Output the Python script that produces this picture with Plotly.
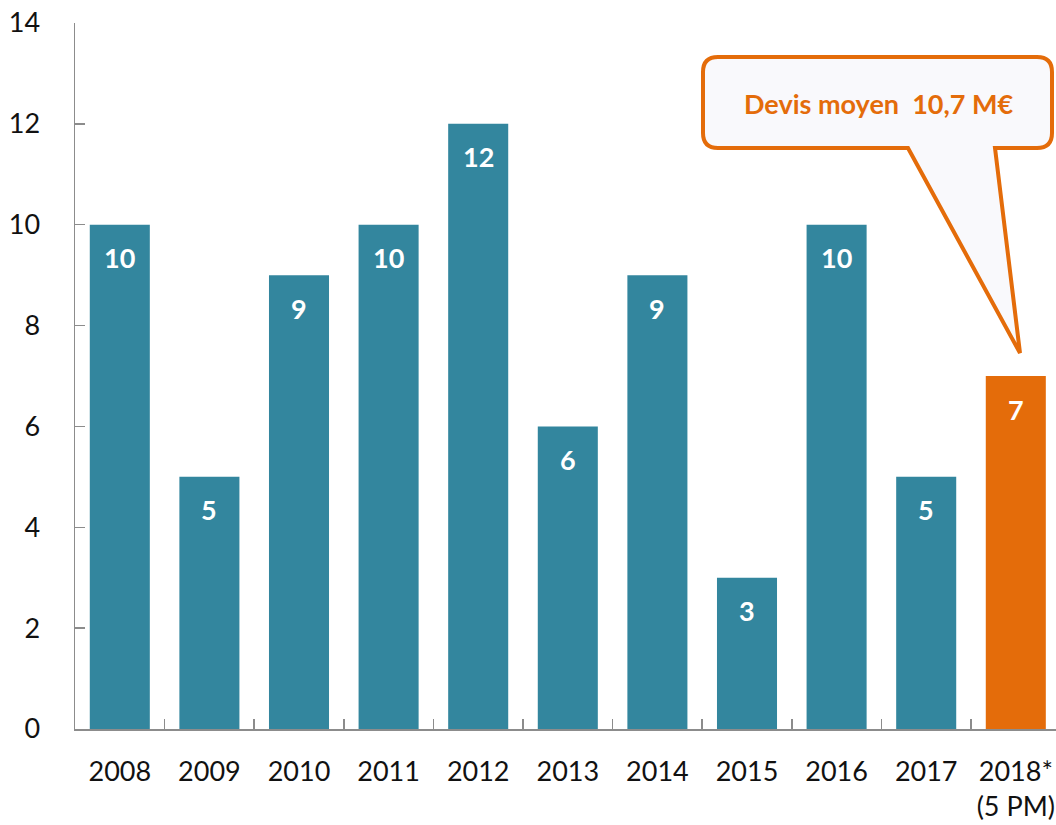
import plotly.graph_objects as go

categories = ["2008", "2009", "2010", "2011", "2012", "2013", "2014", "2015", "2016", "2017", "2018*<br>(5 PM)"]
values = [10, 5, 9, 10, 12, 6, 9, 3, 10, 5, 7]
bar_colors = ["#33869E"] * 10 + ["#E46C0A"]
callout_text = "Devis moyen\u00a0\u00a010,7 M€"

FONT = "Lato, Carlito, Calibri, sans-serif"
W, H = 1056, 825
L, R, T, B = 75, 0, 23, 96
PW, PH = W - L - R, H - T - B
CAT_W = 89.6

fig = go.Figure()
fig.add_trace(go.Bar(
    x=categories, y=values,
    marker=dict(color=bar_colors, line=dict(width=0)),
    hoverinfo="skip",
))

for i, v in enumerate(values):
    fig.add_annotation(x=i, y=v, text=f"<b>{v}</b>", showarrow=False,
                       xanchor="center", yanchor="middle", yshift=-33,
                       font=dict(family=FONT, size=27, color="white"))

# callout, given in page pixels -> paper coords
def px(x):
    return (x - L) / PW

def py(y):
    return (H - B - y) / PH

x0, x1, y0, y1, r = 703, 1052, 57, 148, 15
tl, tr, tip = 908, 995, (1020, 353)
def P(x, y):
    return f"{px(x):.5f},{py(y):.5f}"
path = (f"M {P(x0 + r, y0)} L {P(x1 - r, y0)} Q {P(x1, y0)} {P(x1, y0 + r)} "
        f"L {P(x1, y1 - r)} Q {P(x1, y1)} {P(x1 - r, y1)} "
        f"L {P(tr, y1)} L {P(*tip)} L {P(tl, y1)} "
        f"L {P(x0 + r, y1)} Q {P(x0, y1)} {P(x0, y1 - r)} "
        f"L {P(x0, y0 + r)} Q {P(x0, y0)} {P(x0 + r, y0)} Z")
fig.add_shape(type="path", path=path, xref="paper", yref="paper",
              fillcolor="#F9F9FC", line=dict(color="#E46C0A", width=4), layer="above")
fig.add_annotation(x=px(879), y=py(104), xref="paper", yref="paper",
                   xanchor="center", yanchor="middle",
                   text=f"<b>{callout_text}</b>", showarrow=False,
                   font=dict(family=FONT, size=27, color="#E46C0A"))

fig.update_layout(
    width=W, height=H,
    margin=dict(l=L, r=R, t=T, b=B, pad=0, autoexpand=False),
    paper_bgcolor="white", plot_bgcolor="white",
    showlegend=False, bargap=0.33,
    font=dict(family=FONT, size=27, color="#111111"),
)
fig.update_xaxes(
    type="category", range=[-0.5, -0.5 + PW / CAT_W], automargin=False,
    showline=True, linecolor="#8C8C8C", linewidth=1.5,
    ticks="inside", tickson="boundaries", ticklen=10, tickcolor="#8C8C8C", tickwidth=1.5,
    showgrid=False, zeroline=False, ticklabelstandoff=18, ticklabeloverflow="allow",
    tickfont=dict(family=FONT, size=27, color="#111111"),
)
fig.update_yaxes(
    range=[0, 14], dtick=2, tick0=0, automargin=False,
    showline=True, linecolor="#8C8C8C", linewidth=1.5,
    ticks="inside", ticklen=10, tickcolor="#8C8C8C", tickwidth=1.5,
    showgrid=False, zeroline=False, ticklabelstandoff=28, ticklabeloverflow="allow",
    tickfont=dict(family=FONT, size=27, color="#111111"),
)

fig.write_html("out.html",
               config={"displayModeBar": False, "staticPlot": True},
               post_script="document.body.style.margin='0';document.body.style.overflow='hidden';")
